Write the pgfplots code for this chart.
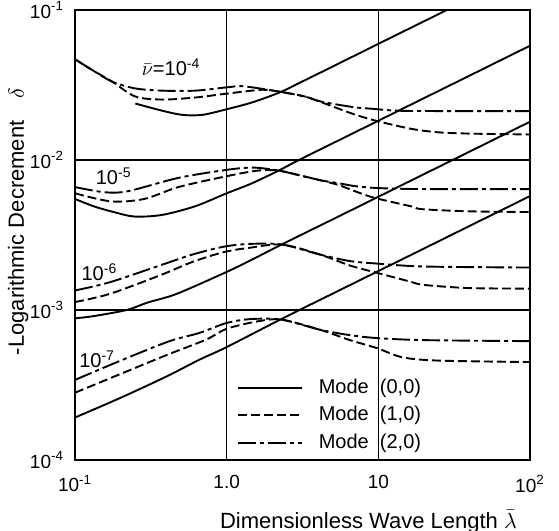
\documentclass[border=0pt]{standalone}
\usepackage{fontspec}
\setmainfont{Liberation Sans}
\usepackage{pgfplots}
\pgfplotsset{compat=1.18}
\begin{document}
\begin{tikzpicture}[x=1pt,y=1pt]
\path[use as bounding box] (-37.5,-35.5) rectangle (242,230);
\begin{axis}[
  at={(0,0)}, anchor=south west,
  scale only axis, width=227.5pt, height=225pt,
  xmode=log, ymode=log,
  xmin=0.1, xmax=100, ymin=1e-4, ymax=0.1,
  xtick={0.1,1,10,100},
  xticklabels={10\textsuperscript{-1},1.0,10,10\textsuperscript{2}},
  ytick={1e-4,1e-3,1e-2,1e-1},
  yticklabels={10\textsuperscript{-4},10\textsuperscript{-3},10\textsuperscript{-2},10\textsuperscript{-1}},
  xminorticks=false, yminorticks=false,
  major tick length=0pt,
  grid=major,
  major grid style={black, line width=0.6pt},
  axis line style={black, line width=1pt},
  tick label style={font=\fontsize{9.5}{10}\selectfont},
  xticklabel style={yshift=-4pt},
  yticklabel style={xshift=-2pt},
  xlabel={Dimensionless Wave Length $\bar{\lambda}$},
  xlabel style={at={(axis description cs:0.645,-0.137)}, anchor=center, font=\fontsize{11}{12}\selectfont},
  ylabel={-Logarithmic Decrement\quad $\delta$},
  ylabel style={at={(axis description cs:-0.125,0.53)}, anchor=center, font=\fontsize{11}{12}\selectfont},
  legend style={draw=none, fill=none, at={(0.355,0.19)}, anchor=north west,
    font=\fontsize{10}{11}\selectfont, row sep=1pt, inner sep=0pt},
  legend cell align=left,
  legend image code/.code={\draw[#1] (0pt,0pt) -- (32pt,0pt);},
  every axis plot/.append style={line width=0.95pt, black},
  clip=true,
]
\addlegendimage{solid}
\addlegendentry{\hspace{6pt}Mode\ \ (0,0)}
\addlegendimage{dash pattern=on 4.5pt off 2pt}
\addlegendentry{\hspace{6pt}Mode\ \ (1,0)}
\addlegendimage{dash pattern=on 9pt off 2pt on 2pt off 2pt}
\addlegendentry{\hspace{6pt}Mode\ \ (2,0)}

% ---------- nu = 1e-4 ----------
\addplot[smooth, solid, forget plot] coordinates {
 (0.25,0.0238) (0.377,0.0213) (0.51,0.0200) (0.69,0.0200) (1.0,0.0218) (1.49,0.0243)
 (2.25,0.0283) (3,0.03256) (5,0.0420) (10,0.0595) (20,0.0841) (30,0.103)};
\addplot[smooth, dash pattern=on 4.5pt off 2pt, forget plot] coordinates {
 (0.1,0.047) (0.13,0.0398) (0.176,0.0333) (0.25,0.0265) (0.377,0.0253) (0.62,0.0261)
 (1.0,0.0277) (1.71,0.0294) (2.25,0.0285) (3.28,0.0265) (4.2,0.0243) (6.9,0.0202)
 (10,0.0181) (16.7,0.0161) (25,0.0153) (40,0.0150) (100,0.0148)};
\addplot[smooth, dash pattern=on 9pt off 2pt on 2pt off 2pt, forget plot] coordinates {
 (0.1,0.047) (0.13,0.0398) (0.176,0.0333) (0.25,0.0300) (0.377,0.0290) (0.62,0.0290)
 (1.0,0.0305) (1.3,0.0310) (2.25,0.0285) (3.28,0.0265) (4.2,0.0245) (6.9,0.0225)
 (8.9,0.0220) (13.7,0.0213) (30,0.0212) (100,0.0212)};

% ---------- nu = 1e-5 ----------
\addplot[smooth, solid, forget plot] coordinates {
 (0.1,0.0055) (0.134,0.0049) (0.18,0.0045) (0.246,0.0042) (0.372,0.0043) (0.614,0.0049)
 (1.0,0.0060) (1.47,0.0070) (2.2,0.0085) (3,0.01001) (5,0.01292) (10,0.01828)
 (20,0.02585) (50,0.04087) (100,0.0578)};
\addplot[smooth, dash pattern=on 4.5pt off 2pt, forget plot] coordinates {
 (0.1,0.0060) (0.173,0.0053) (0.286,0.0055) (0.48,0.0066) (1.0,0.0078) (1.6,0.0085)
 (2.2,0.0085) (3.2,0.0078) (4.23,0.0073) (5.5,0.0068) (7,0.0062) (9.4,0.0056)
 (16.6,0.0049) (19.5,0.0047) (40,0.00455) (100,0.0045)};
\addplot[smooth, dash pattern=on 9pt off 2pt on 2pt off 2pt, forget plot] coordinates {
 (0.1,0.0066) (0.156,0.0061) (0.224,0.0062) (0.48,0.0076) (1.0,0.0086) (1.5,0.0089)
 (2.2,0.0085) (3.2,0.0078) (4.23,0.0073) (5.5,0.0070) (7,0.0067) (10,0.0065)
 (20,0.0064) (100,0.0064)};

% ---------- nu = 1e-6 ----------
\addplot[smooth, solid, forget plot] coordinates {
 (0.1,0.00088) (0.132,0.00091) (0.219,0.0010) (0.3,0.00112) (0.467,0.00128)
 (0.97,0.00177) (1.42,0.00213) (2.33,0.00275) (5,0.00402) (10,0.00569) (20,0.00805)
 (50,0.01273) (100,0.018)};
\addplot[smooth, dash pattern=on 4.5pt off 2pt, forget plot] coordinates {
 (0.1,0.00113) (0.169,0.00128) (0.362,0.0017) (0.6,0.0021) (0.97,0.00244) (1.42,0.0026)
 (2.33,0.00273) (4.14,0.00234) (6.5,0.00198) (9.8,0.00177) (16.1,0.00155) (20,0.00147)
 (40,0.0014) (100,0.00139)};
\addplot[smooth, dash pattern=on 9pt off 2pt on 2pt off 2pt, forget plot] coordinates {
 (0.1,0.00135) (0.169,0.00153) (0.362,0.00198) (0.6,0.00235) (0.97,0.00265) (1.44,0.00276)
 (2.33,0.00273) (4.14,0.00234) (6.5,0.00212) (9.8,0.00204) (20,0.00195) (100,0.00192)};

% ---------- nu = 1e-7 ----------
\addplot[smooth, solid, forget plot] coordinates {
 (0.1,0.000192) (0.2,0.00026) (0.4,0.00036) (0.66,0.000466) (1.0,0.000566)
 (2.3,0.000872) (5,0.001286) (10,0.001818) (20,0.00257) (50,0.004066) (100,0.00575)};
\addplot[smooth, dash pattern=on 4.5pt off 2pt, forget plot] coordinates {
 (0.1,0.000281) (0.2,0.000375) (0.4,0.0005) (0.73,0.000634) (1.0,0.00075) (1.6,0.00084)
 (2.3,0.000863) (4.1,0.00074) (6.5,0.00063) (9.8,0.000557) (14.4,0.000484) (25,0.00046)
 (100,0.00045)};
\addplot[smooth, dash pattern=on 9pt off 2pt on 2pt off 2pt, forget plot] coordinates {
 (0.1,0.000342) (0.2,0.00046) (0.42,0.00062) (0.66,0.000703) (1.0,0.00082) (1.44,0.00087)
 (2.3,0.000863) (4.1,0.00074) (6.5,0.00068) (9.8,0.00065) (20,0.00063) (100,0.00062)};

\node[font=\fontsize{10}{11}\selectfont] at (axis cs:0.43,0.0415) {$\bar{\nu}$=10\textsuperscript{-4}};
\node[font=\fontsize{10}{11}\selectfont] at (axis cs:0.18,0.0078) {10\textsuperscript{-5}};
\node[font=\fontsize{10}{11}\selectfont] at (axis cs:0.145,0.00178) {10\textsuperscript{-6}};
\node[font=\fontsize{10}{11}\selectfont] at (axis cs:0.14,0.00047) {10\textsuperscript{-7}};
\end{axis}
\end{tikzpicture}
\end{document}
